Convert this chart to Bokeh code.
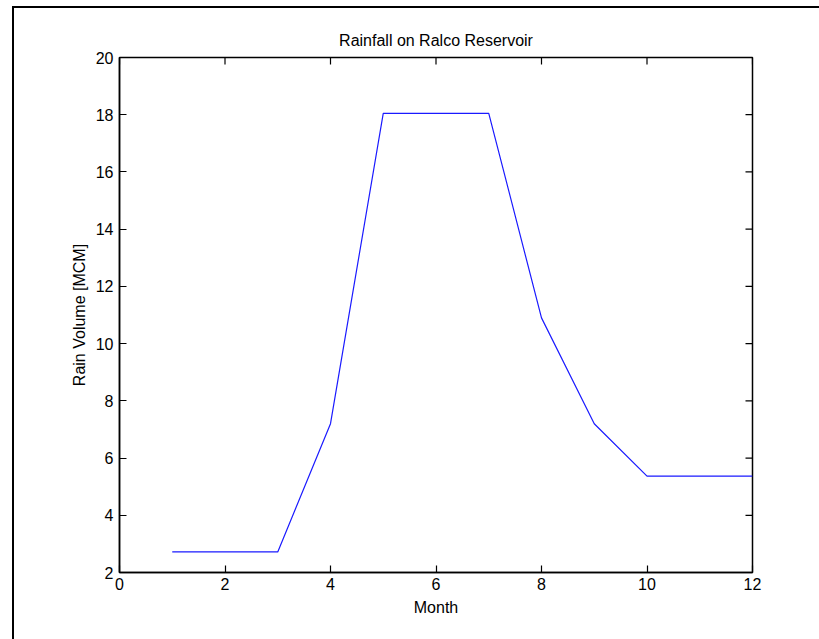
import math
from bokeh.plotting import figure
from bokeh.models import Range1d, LinearAxis, FixedTicker, InlineStyleSheet
from bokeh.embed import file_html
from bokeh.resources import INLINE

months = [1, 2, 3, 4, 5, 6, 7, 8, 9, 10, 11, 12]
rain_mcm = [2.72, 2.72, 2.72, 7.2, 18.05, 18.05, 18.05, 10.9, 7.2, 5.37, 5.37, 5.37]
x_ticks = [0, 2, 4, 6, 8, 10, 12]
y_ticks = [2, 4, 6, 8, 10, 12, 14, 16, 18, 20]
x_min, x_max = 0, 12
y_min, y_max = 2, 20

FONT = "Liberation Sans"

p = figure(width=819, height=639, output_backend="svg", toolbar_location=None,
           x_range=Range1d(x_min, x_max), y_range=Range1d(y_min, y_max),
           x_axis_location=None, y_axis_location=None,
           min_border_left=119, min_border_right=67, min_border_top=57, min_border_bottom=67)
p.title.text = "Rainfall on Ralco Reservoir"
p.title.align = "center"
p.title.text_font = FONT
p.title.text_font_size = "16px"
p.title.text_font_style = "normal"
p.title.text_color = "black"
p.title.standoff = 18

p.background_fill_color = "white"
p.border_fill_color = "white"
p.outline_line_color = "black"
p.outline_line_width = 1.5
p.xgrid.visible = False
p.ygrid.visible = False

def style_axis(ax):
    ax.major_tick_in = 7
    ax.major_tick_out = 0
    ax.minor_tick_in = 0
    ax.minor_tick_out = 0
    ax.axis_line_color = "black"
    ax.axis_line_width = 1.5
    ax.major_tick_line_color = "black"
    ax.major_tick_line_width = 1.2
    ax.major_label_text_font = FONT
    ax.major_label_text_font_size = "16px"
    ax.major_label_text_color = "black"
    ax.axis_label_text_font = FONT
    ax.axis_label_text_font_size = "16px"
    ax.axis_label_text_font_style = "normal"
    ax.axis_label_text_color = "black"

xb = LinearAxis(ticker=FixedTicker(ticks=x_ticks), axis_label="Month")
style_axis(xb)
xb.major_label_standoff = 5
xb.axis_label_standoff = 6
p.add_layout(xb, "below")

yl = LinearAxis(ticker=FixedTicker(ticks=y_ticks), axis_label="Rain Volume [MCM]")
style_axis(yl)
yl.major_label_standoff = 6
yl.axis_label_standoff = 5
p.add_layout(yl, "left")

# inward ticks on the top and right edges of the box (MATLAB style)
p.ray(x=x_ticks, y=[y_max] * len(x_ticks), length=7, length_units="screen",
      angle=-math.pi / 2, line_color="black", line_width=1.2)
p.ray(x=[x_max] * len(y_ticks), y=y_ticks, length=7, length_units="screen",
      angle=math.pi, line_color="black", line_width=1.2)

p.line(months, rain_mcm, line_color="#1a1aff", line_width=1.2)

p.stylesheets = [InlineStyleSheet(css="""
:host { position: relative; }
:host::after {
  content: '';
  position: absolute;
  left: 12px;
  top: 6px;
  width: 805px;
  height: 633px;
  border-left: 2.5px solid black;
  border-top: 2.5px solid black;
  pointer-events: none;
  z-index: 10;
}
""")]

open("out.html", "w").write(file_html(p, INLINE))
